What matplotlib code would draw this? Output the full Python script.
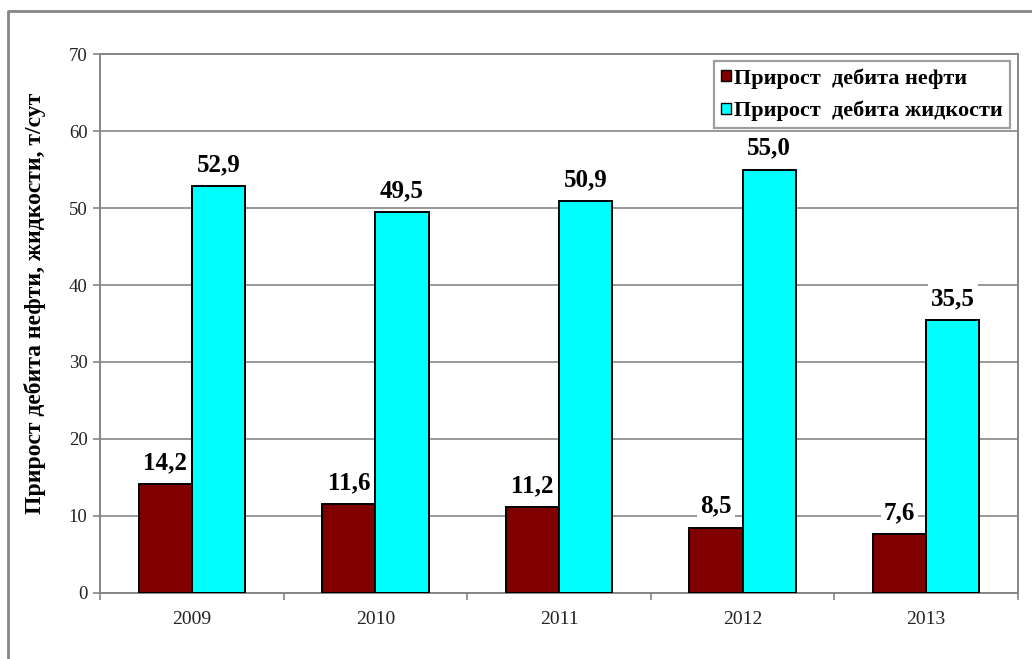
import numpy as np
import matplotlib
matplotlib.use("Agg")
import matplotlib.pyplot as plt
from matplotlib.patches import Patch
from matplotlib.lines import Line2D

years = ["2009", "2010", "2011", "2012", "2013"]
oil_gain = [14.2, 11.6, 11.2, 8.5, 7.6]
liquid_gain = [52.9, 49.5, 50.9, 55.0, 35.5]
series_names = ["Прирост  дебита нефти", "Прирост  дебита жидкости"]
y_label = "Прирост дебита нефти, жидкости, т/сут"

oil_color = "#800000"
liquid_color = "#00FFFF"
grey = "#868686"

plt.rcParams["font.family"] = ["Liberation Serif", "DejaVu Serif"]

fig = plt.figure(figsize=(10.32, 6.59), dpi=100)
ax = fig.add_axes([0.0969, 0.1002, 0.8895, 0.8178])

x = np.arange(len(years))
width = 0.29
bars_oil = ax.bar(x - width / 2, oil_gain, width, color=oil_color,
                  edgecolor="black", linewidth=1.4, zorder=3)
bars_liq = ax.bar(x + width / 2, liquid_gain, width, color=liquid_color,
                  edgecolor="black", linewidth=1.4, zorder=3)

# value labels on white boxes so the grid lines break behind them
for bars, vals in ((bars_oil, oil_gain), (bars_liq, liquid_gain)):
    for b, v in zip(bars, vals):
        ax.annotate(f"{v:.1f}".replace(".", ","),
                    (b.get_x() + b.get_width() / 2, v),
                    xytext=(0, 7), textcoords="offset points",
                    ha="center", va="bottom", fontsize=18, fontweight="bold",
                    zorder=5,
                    bbox=dict(boxstyle="square,pad=0.12", fc="white", ec="none"))

ax.set_xlim(-0.5, len(years) - 0.5)
ax.set_ylim(0, 70)
ax.set_yticks(range(0, 71, 10))
ax.yaxis.grid(True, color=grey, linewidth=1.2, zorder=0)
ax.set_axisbelow(True)

# category ticks sit on the boundaries, names in the middle
ax.set_xticks(np.arange(-0.5, len(years)), minor=False)
ax.set_xticklabels([])
ax.set_xticks(x, minor=True)
ax.set_xticklabels(years, minor=True)
ax.tick_params(axis="x", which="major", direction="out", length=5,
               color=grey, width=1.2)
ax.tick_params(axis="x", which="minor", length=0, pad=13,
               labelsize=14, labelcolor="#222222")
ax.tick_params(axis="y", direction="out", length=5, color=grey, width=1.2,
               labelsize=13.5, labelcolor="#222222", pad=4)

for s in ax.spines.values():
    s.set_color(grey)
    s.set_linewidth(1.4)

fig.text(0.034, 0.539, y_label, rotation=90, ha="center", va="center",
         fontsize=17, fontweight="bold")

handles = [Patch(facecolor=oil_color, edgecolor="black", linewidth=1.0),
           Patch(facecolor=liquid_color, edgecolor="black", linewidth=1.0)]
leg = ax.legend(handles, series_names, loc="upper right",
                bbox_to_anchor=(0.9913, 0.987), borderaxespad=0,
                prop={"size": 16, "weight": "bold"}, fancybox=False,
                frameon=True, handlelength=0.42, handleheight=0.42,
                handletextpad=0.15, labelspacing=0.55, borderpad=0.32)
leg.get_frame().set_edgecolor(grey)
leg.get_frame().set_linewidth(1.6)
leg.set_zorder(6)

# outer chart frame (left and top edges)
fig.add_artist(Line2D([8 / 1032, 8 / 1032, 1.0], [0.0, 1 - 11 / 659, 1 - 11 / 659],
                      transform=fig.transFigure, color=grey, linewidth=2))

fig.savefig("out.png", dpi=100, facecolor="white")
